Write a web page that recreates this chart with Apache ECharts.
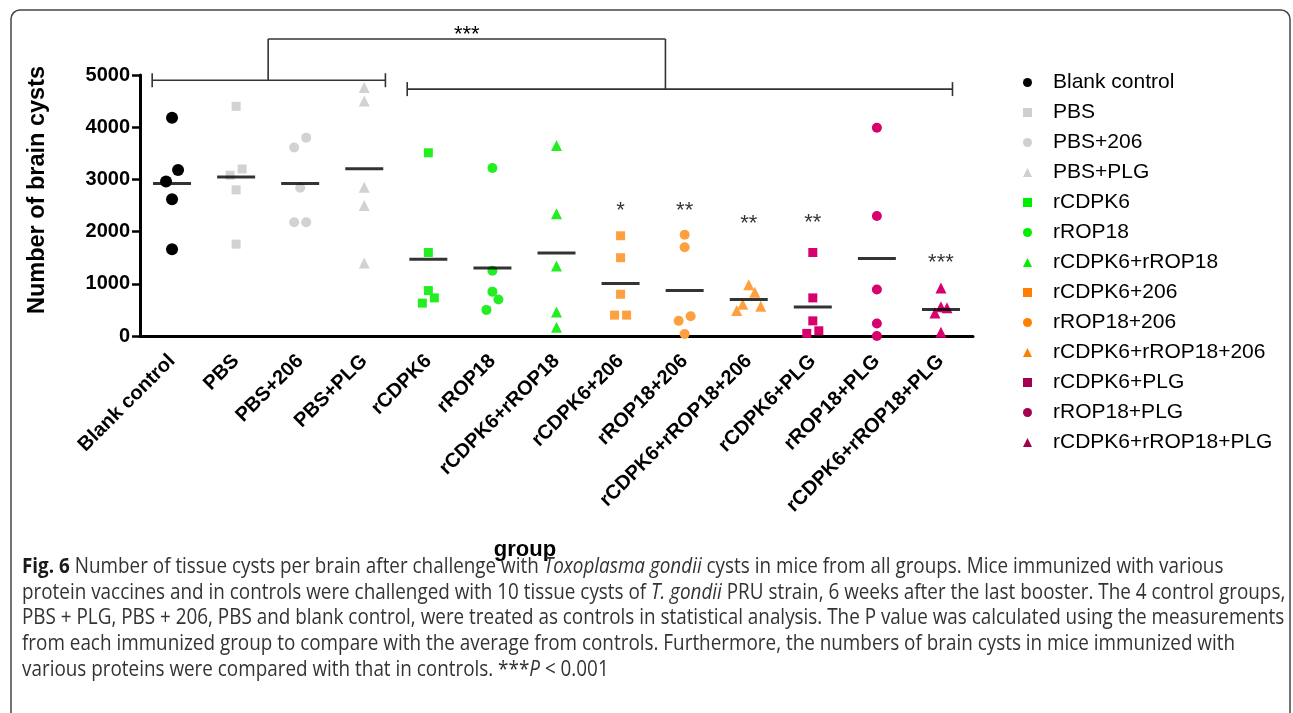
<!DOCTYPE html>
<html>
<head>
<meta charset="utf-8">
<script src="https://cdn.jsdelivr.net/npm/echarts@6/dist/echarts.min.js"></script>
<style>
html,body{margin:0;padding:0;background:#fff;}
#chart{width:1293px;height:713px;}
</style>
</head>
<body>
<div id="chart"></div>
<script>
// ---------- data ----------
const categories = ['Blank control','PBS','PBS+206','PBS+PLG','rCDPK6','rROP18','rCDPK6+rROP18','rCDPK6+206','rROP18+206','rCDPK6+rROP18+206','rCDPK6+PLG','rROP18+PLG','rCDPK6+rROP18+PLG'];
const blankControl   = [4180, 3180, 2960, 2620, 1660];
const pbs            = [4400, 3200, 3080, 2800, 1760];
const pbs206         = [3800, 3610, 2840, 2180, 2180];
const pbsPlg         = [4760, 4500, 2850, 2500, 1400];
const rCdpk6         = [3510, 1600, 870, 730, 630];
const rRop18         = [3220, 1250, 850, 700, 500];
const rCdpk6Rop18    = [3650, 2340, 1340, 460, 170];
const rCdpk6_206     = [1920, 1500, 800, 400, 400];
const rRop18_206     = [1940, 1700, 380, 290, 40];
const rCdpk6Rop18_206= [980, 840, 610, 570, 490];
const rCdpk6Plg      = [1600, 730, 290, 100, 50];
const rRop18Plg      = [3990, 2300, 890, 240, 0];
const rCdpk6Rop18Plg = [920, 560, 540, 440, 70];
const groups = [blankControl, pbs, pbs206, pbsPlg, rCdpk6, rRop18, rCdpk6Rop18, rCdpk6_206, rRop18_206, rCdpk6Rop18_206, rCdpk6Plg, rRop18Plg, rCdpk6Rop18Plg];
const sigText  = ['', '', '', '', '', '', '', '*', '**', '**', '**', '', '***'];
const sigLevel = [null, null, null, null, null, null, null, 2470, 2470, 2220, 2240, null, 1480];
const yTicks = [0, 1000, 2000, 3000, 4000, 5000];

// ---------- styles ----------
const grey = '#d2d2d2', green = '#22ee22', orange = '#ffa040', magenta = '#d8006e';
const colors = ['#000000', grey, grey, grey, green, green, green, orange, orange, orange, magenta, magenta, magenta];
const legendColors = ['#000000', '#cfcfcf', '#cfcfcf', '#cfcfcf', '#00ee00', '#00ee00', '#00ee00', '#ff8000', '#ff8000', '#ff8000', '#a3004f', '#a3004f', '#a3004f'];
const shapes = ['circle', 'rect', 'circle', 'triangle', 'rect', 'circle', 'triangle', 'rect', 'circle', 'triangle', 'rect', 'circle', 'triangle'];
const sizeOf = {circle: 10, rect: 9, triangle: 11};
const LANE = 6 / 64;   // horizontal spread step (category units)
const GAP = 235;       // values closer than this are spread sideways

function spread(vals) {
  const idx = vals.map((v, i) => i).sort((a, b) => vals[b] - vals[a]);
  const off = new Array(vals.length).fill(0);
  let k = 0;
  while (k < idx.length) {
    let e = k;
    while (e + 1 < idx.length && vals[idx[e]] - vals[idx[e + 1]] < GAP) e++;
    const n = e - k + 1;
    const lanes = [];
    if (n % 2) lanes.push(0);
    for (let j = 1; lanes.length < n; j++) lanes.push(j, -j);
    for (let m = 0; m < n; m++) off[idx[k + m]] = lanes[m];
    k = e + 1;
  }
  return off;
}
const mean = a => a.reduce((s, v) => s + v, 0) / a.length;

const chart = echarts.init(document.getElementById('chart'), null, {renderer: 'canvas'});

const series = groups.map((vals, i) => {
  const off = spread(vals);
  return {
    name: categories[i], type: 'scatter', xAxisIndex: 1, yAxisIndex: 0,
    symbol: shapes[i], symbolSize: i === 0 ? 12 : sizeOf[shapes[i]],
    itemStyle: {color: colors[i], opacity: 1},
    emphasis: {disabled: true}, z: 4,
    data: vals.map((v, j) => [i + off[j] * LANE, v])
  };
});
series.push({
  name: 'mean', type: 'scatter', xAxisIndex: 1, yAxisIndex: 0,
  symbol: 'rect', symbolSize: [38, 3], itemStyle: {color: '#000'}, z: 5, silent: true,
  data: groups.map((vals, i) => [i, mean(vals)])
});
series.push({
  name: 'sig', type: 'scatter', xAxisIndex: 1, yAxisIndex: 0,
  symbolSize: 1, itemStyle: {color: 'transparent'}, silent: true, z: 6,
  label: {show: true, position: 'inside', offset: [0, 4], formatter: p => p.name,
          fontSize: 22, color: '#000', fontFamily: 'Liberation Sans'},
  data: sigLevel.map((y, i) => y == null ? null : {name: sigText[i], value: [i, y]}).filter(d => d)
});

const FONT = 'Liberation Sans, Arial, sans-serif';
chart.setOption({
  animation: false,
  backgroundColor: '#fff',
  grid: {left: 140, right: 320, top: 75, bottom: 377, outerBoundsMode: 'none'},
  legend: {
    orient: 'vertical', left: 1018, top: 67, itemGap: 9, itemWidth: 9, itemHeight: 9,
    selectedMode: false,
    textStyle: {fontSize: 21, lineHeight: 21, color: '#000', fontFamily: FONT, padding: [0, 0, 0, 16]},
    data: categories.map((c, i) => ({name: c, icon: shapes[i], itemStyle: {color: legendColors[i]}}))
  },
  xAxis: [{
    type: 'category', data: categories, boundaryGap: true,
    axisLine: {onZero: false, lineStyle: {color: '#000', width: 3}},
    axisTick: {alignWithLabel: true, length: 8, lineStyle: {color: '#000', width: 2.5}},
    axisLabel: {rotate: 45, interval: 0, margin: 22, fontSize: 20, fontWeight: 'bold', color: '#000', fontFamily: FONT},
    splitLine: {show: false}
  }, {
    type: 'value', min: -0.5, max: 12.5, show: false, splitLine: {show: false}
  }],
  yAxis: [{
    type: 'value', min: yTicks[0], max: yTicks[yTicks.length - 1], interval: yTicks[1] - yTicks[0],
    axisLine: {show: true, onZero: false, lineStyle: {color: '#000', width: 3}},
    axisTick: {show: true, length: 8, lineStyle: {color: '#000', width: 2.5}},
    axisLabel: {margin: 10, fontSize: 20, fontWeight: 'bold', color: '#000', fontFamily: FONT,
                formatter: v => String(v)},
    splitLine: {show: false}
  }],
  series: series
});

// ---------- annotations (brackets, titles, caption, frame) ----------
const toPx = (x, y) => chart.convertToPixel({xAxisIndex: 1, yAxisIndex: 0}, [x, y]);
const LC = '#333';
function hline(x1, x2, y) { return {type: 'line', shape: {x1, y1: y, x2, y2: y}, style: {stroke: LC, lineWidth: 1.6}, silent: true}; }
function vline(x, y1, y2) { return {type: 'line', shape: {x1: x, y1, x2: x, y2}, style: {stroke: LC, lineWidth: 1.6}, silent: true}; }

const [lx1, ly] = toPx(-0.31, 4900);
const [lx2] = toPx(3.33, 4900);
const [rx1, ry] = toPx(3.67, 4730);
const [rx2] = toPx(12.18, 4730);
const [tlx, ty] = toPx(1.5, 5690);
const [trx] = toPx(7.7, 5690);
const [sx] = toPx(4.6, 5690);

const g = [];
g.push(hline(lx1, lx2, ly), vline(lx1, ly - 7, ly + 7), vline(lx2, ly - 7, ly + 7));
g.push(hline(rx1, rx2, ry), vline(rx1, ry - 7, ry + 7), vline(rx2, ry - 7, ry + 7));
g.push(vline(tlx, ty, ly), hline(tlx, trx, ty), vline(trx, ty, ry));
g.push({type: 'text', x: sx, y: ty - 4, style: {text: '***', font: '22px Liberation Sans', fill: '#000', align: 'center', verticalAlign: 'middle'}, silent: true});

// axis titles
g.push({type: 'text', x: 38, y: 190, rotation: Math.PI / 2,
  style: {text: 'Number of brain cysts', font: 'bold 23.5px Liberation Sans', fill: '#000', align: 'center', verticalAlign: 'middle'}, silent: true});
g.push({type: 'text', x: 525, y: 550,
  style: {text: 'group', font: 'bold 22px Liberation Sans', fill: '#000', align: 'center', verticalAlign: 'middle'}, silent: true});

// caption
const capLines = [
  '{b|Fig. 6} Number of tissue cysts per brain after challenge with {i|Toxoplasma gondii} cysts in mice from all groups. Mice immunized with various',
  'protein vaccines and in controls were challenged with 10 tissue cysts of {i|T. gondii} PRU strain, 6 weeks after the last booster. The 4 control groups,',
  'PBS + PLG, PBS + 206, PBS and blank control, were treated as controls in statistical analysis. The P value was calculated using the measurements',
  'from each immunized group to compare with the average from controls. Furthermore, the numbers of brain cysts in mice immunized with',
  'various proteins were compared with that in controls. ***{i|P} < 0.001'
];
const CAP_FONT = '"Open Sans"';
const CAP_SIZE = 21;
const ctx = document.createElement('canvas').getContext('2d');
ctx.font = CAP_SIZE + 'px ' + CAP_FONT;
const plain2 = capLines[1].replace(/\{i\|([^}]*)\}/g, '$1');
const targetW = 1289 - 22;
const sX = targetW / ctx.measureText(plain2).width;
const capChildren = capLines.map((t, k) => ({
  type: 'text', x: 0, y: k * 25.7,
  style: {
    text: t, fontSize: CAP_SIZE, fontFamily: CAP_FONT, fill: '#333', verticalAlign: 'middle', align: 'left',
    rich: {
      b: {fontWeight: 'bold', fontSize: CAP_SIZE, fontFamily: CAP_FONT, fill: '#1a1a1a'},
      i: {fontStyle: 'italic', fontSize: CAP_SIZE, fontFamily: CAP_FONT, fill: '#333'}
    }
  }, silent: true
}));
g.push({type: 'group', x: 22, y: 567, scaleX: sX, scaleY: 1, children: capChildren, silent: true});

// frame
g.push({type: 'rect', shape: {x: 11, y: 10, width: 1279, height: 720, r: 9},
  style: {fill: 'none', stroke: '#444', lineWidth: 1.5}, silent: true, z: -1});

chart.setOption({graphic: g});
</script>
</body>
</html>
